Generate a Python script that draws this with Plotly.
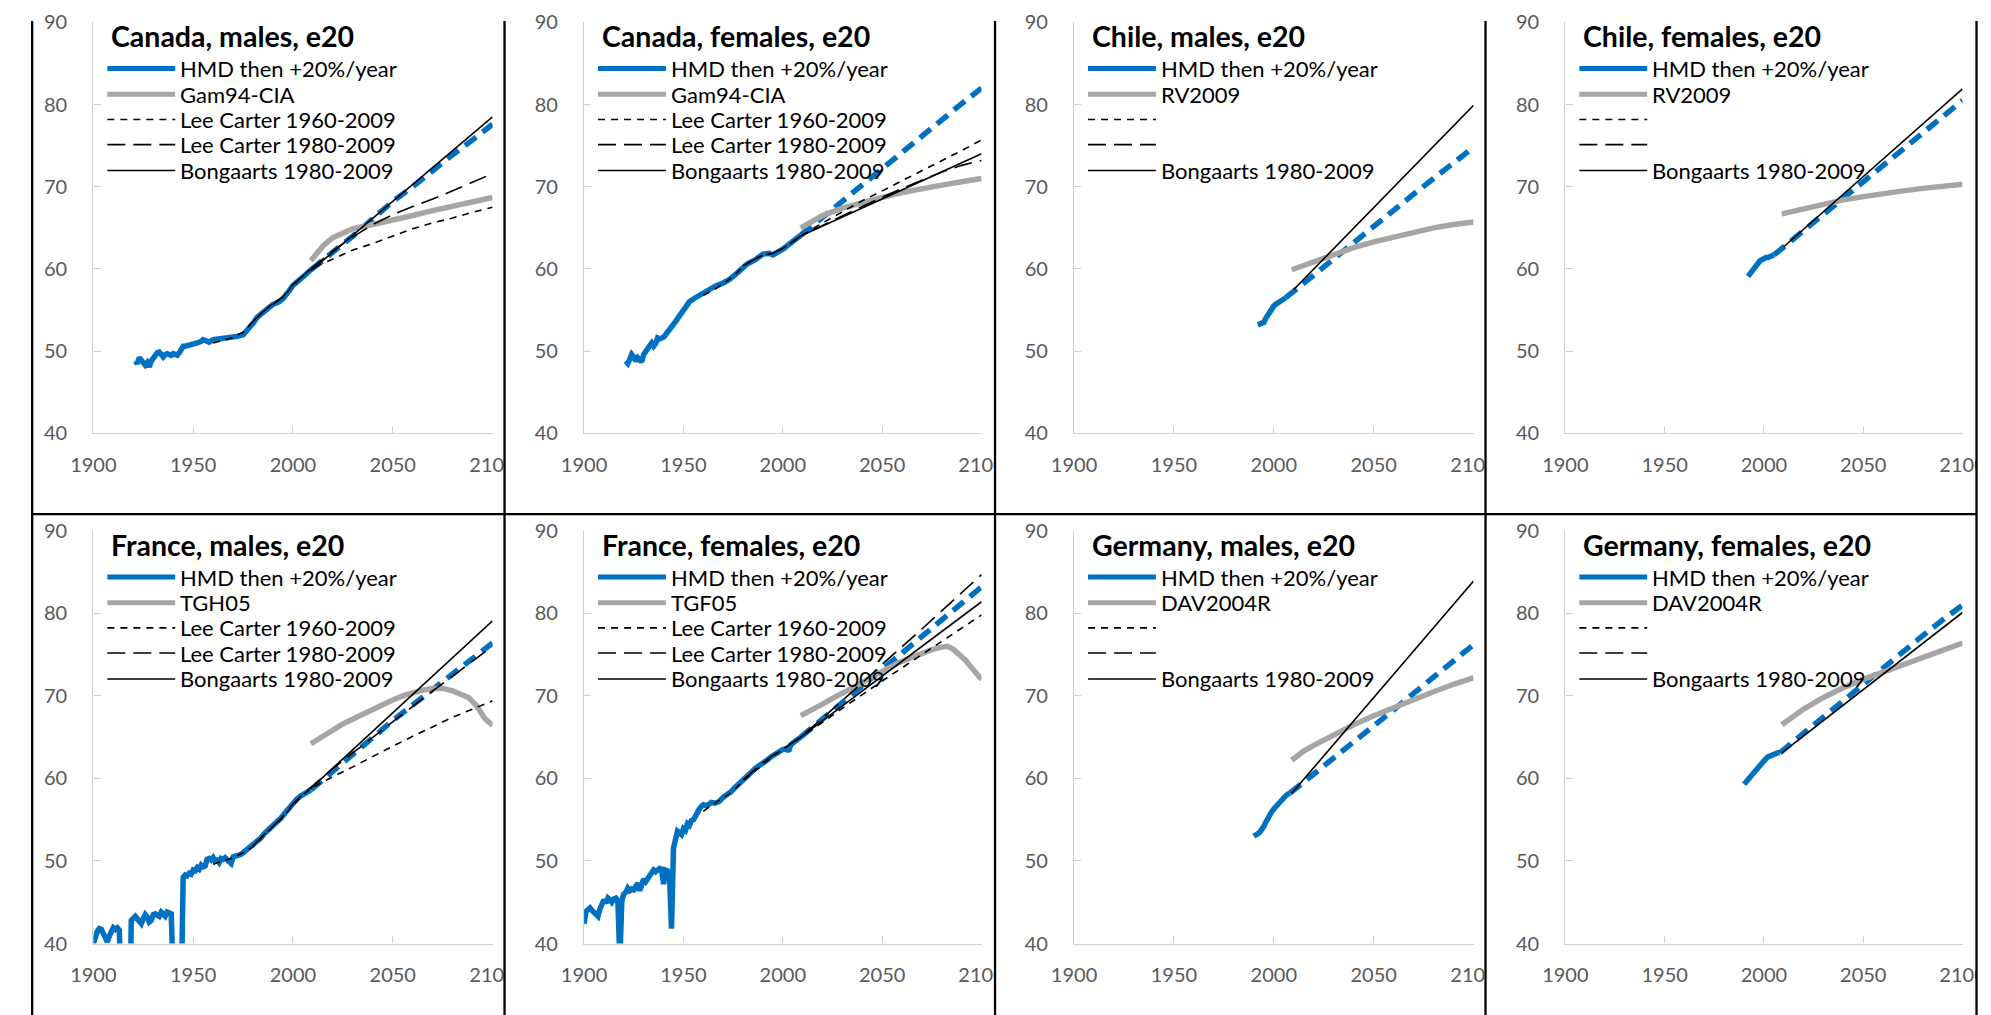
import plotly.graph_objects as go

# ---------------- DATA ----------------
# Canada males
can_m_hist_x = [1921,1922,1923,1924,1925,1926,1927,1928,1929,1930,1931,1932,1933,1934,1935,1936,1937,1938,1939,1940,1941,1942,1943,1944,1945,1946,1948,1950,1952,1954,1955,1956,1958,1960,1963,1966,1969,1972,1975,1977,1980,1982,1985,1988,1990,1993,1995,1998,2000,2003,2005,2007,2009]
can_m_hist_y = [48.8,48.5,49.2,48.9,48.6,48.3,48.6,48.1,48.8,49.2,49.4,49.8,49.9,49.6,49.3,49.6,49.7,49.6,49.5,49.7,49.6,49.5,49.8,50.3,50.6,50.6,50.7,50.9,51.0,51.2,51.4,51.3,51.1,51.4,51.5,51.5,51.6,51.8,52.0,52.5,53.4,54.1,54.7,55.2,55.7,56.0,56.4,57.3,58.0,58.6,59.1,59.5,59.9]
can_m_proj_x = [2009,2020,2030,2040,2050,2060,2070,2080,2090,2100]
can_m_proj_y = [59.9,62.0,64.0,66.1,68.2,70.0,72.0,73.9,75.7,77.6]
can_m_tab_x = [2009,2012,2015,2020,2025,2030,2040,2050,2060,2070,2080,2090,2100]
can_m_tab_y = [61.0,62.0,62.8,63.8,64.4,64.9,65.4,65.9,66.5,67.1,67.6,68.2,68.7]
can_m_lc60_x = [1960,1965,1970,1975,1980,1985,1990,1995,2000,2005,2009,2020,2030,2040,2050,2060,2070,2080,2090,2100]
can_m_lc60_y = [51.0,51.3,51.7,52.3,53.6,54.8,55.8,56.6,58.0,59.2,60.0,61.2,62.3,63.1,64.0,64.9,65.6,66.2,66.9,67.5]
can_m_lc80_x = [1980,1985,1990,1995,2000,2005,2009,2020,2030,2040,2050,2060,2070,2080,2090,2100]
can_m_lc80_y = [53.6,54.8,55.7,56.6,58.1,59.2,60.0,62.2,63.9,65.4,66.6,67.6,68.5,69.5,70.6,71.6]
can_m_bong_x = [2009,2100]
can_m_bong_y = [59.8,78.5]

# Canada females
can_f_hist_x = [1921,1922,1923,1924,1925,1926,1927,1928,1929,1930,1931,1932,1933,1934,1935,1936,1937,1938,1939,1940,1941,1942,1943,1944,1945,1946,1948,1950,1953,1956,1960,1963,1966,1970,1973,1977,1980,1982,1986,1990,1993,1995,2000,2003,2007,2009]
can_f_hist_y = [48.8,48.5,49.0,49.6,49.3,48.8,49.2,49.0,48.7,49.6,50.0,50.3,50.8,51.0,50.6,50.9,51.6,51.5,51.6,51.7,52.0,52.3,52.5,53.0,53.3,53.6,54.3,55.0,56.0,56.5,57.1,57.5,57.9,58.3,58.7,59.5,60.2,60.6,61.1,61.8,61.9,61.7,62.4,63.0,63.6,64.1]
can_f_proj_x = [2009,2020,2030,2040,2050,2060,2070,2080,2090,2100]
can_f_proj_y = [64.1,66.3,68.3,70.3,72.3,74.3,76.3,78.2,80.1,82.0]
can_f_tab_x = [2009,2015,2020,2030,2040,2050,2060,2070,2080,2090,2100]
can_f_tab_y = [65.0,65.9,66.5,67.4,68.1,68.7,69.3,69.8,70.2,70.6,71.0]
can_f_lc60_x = [1960,1965,1970,1975,1980,1985,1990,1995,2000,2005,2009,2020,2030,2040,2050,2060,2070,2080,2090,2100]
can_f_lc60_y = [56.8,57.4,58.2,59.1,60.3,61.1,61.7,61.9,62.5,63.3,64.0,65.6,67.0,68.3,69.5,70.7,71.9,73.1,74.4,75.7]
can_f_lc80_x = [1980,1985,1990,1995,2000,2005,2009,2020,2030,2040,2050,2060,2070,2080,2090,2100]
can_f_lc80_y = [60.4,61.1,61.7,61.9,62.5,63.3,64.0,65.3,66.5,67.6,68.7,69.8,70.8,71.8,72.6,73.2]
can_f_bong_x = [2009,2100]
can_f_bong_y = [64.0,74.0]

# Chile males
chl_m_hist_x = [1992,1993,1994,1995,1996,1997,1998,1999,2000,2001,2002,2003,2004,2005,2006]
chl_m_hist_y = [53.2,53.3,53.3,53.5,54.0,54.4,55.0,55.3,55.5,55.7,55.9,56.1,56.2,56.4,56.5]
chl_m_proj_x = [2006,2020,2030,2040,2050,2060,2070,2080,2090,2100]
chl_m_proj_y = [56.5,59.3,61.3,63.3,65.3,67.2,69.1,71.0,72.9,74.8]
chl_m_tab_x = [2009,2020,2030,2040,2050,2060,2070,2080,2090,2100]
chl_m_tab_y = [59.9,60.9,61.8,62.6,63.3,63.9,64.5,65.0,65.4,65.7]
chl_m_bong_x = [2010,2100]
chl_m_bong_y = [57.5,79.9]

# Chile females
chl_f_hist_x = [1992,1993,1994,1995,1996,1997,1998,1999,2000,2001,2002,2003,2004,2005]
chl_f_hist_y = [59.1,59.4,59.9,60.2,60.4,60.7,61.0,61.1,61.3,61.4,61.4,61.5,61.6,61.7]
chl_f_proj_x = [2005,2010,2020,2030,2040,2050,2060,2070,2080,2090,2100]
chl_f_proj_y = [61.7,62.7,64.7,66.7,68.7,70.7,72.7,74.7,76.7,78.6,80.5]
chl_f_tab_x = [2009,2020,2030,2040,2050,2060,2070,2080,2090,2100]
chl_f_tab_y = [66.7,67.3,67.9,68.4,68.8,69.2,69.5,69.8,70.1,70.3]
chl_f_bong_x = [2010,2100]
chl_f_bong_y = [62.7,81.9]

# France males
fra_m_hist_x = [1900,1901,1902,1903,1904,1905,1906,1907,1908,1909,1910,1911,1912,1913,1914,1915,1916,1917,1918,1919,1920,1921,1922,1923,1924,1925,1926,1927,1928,1929,1930,1931,1932,1933,1934,1935,1936,1937,1938,1939,1940,1941,1942,1943,1944,1945,1946,1947,1948,1949,1950,1951,1952,1953,1954,1955,1956,1957,1958,1959,1960,1961,1962,1963,1964,1965,1966,1967,1968,1969,1970,1972,1974,1976,1978,1980,1982,1984,1986,1988,1990,1992,1994,1996,1998,2000,2002,2004,2006,2009]
fra_m_hist_y = [40.0,41.0,41.5,41.8,41.7,41.2,40.8,40.2,40.9,41.6,41.9,41.7,41.9,41.6,30.0,24.0,27.0,29.0,28.0,42.8,43.1,43.3,43.0,42.6,42.4,43.0,43.5,43.2,42.6,42.8,43.5,43.6,43.5,43.3,43.8,43.6,43.3,43.8,43.7,43.6,36.0,38.5,38.5,38.0,34.0,48.0,48.3,48.2,48.5,48.4,48.9,48.8,49.2,49.0,49.5,49.3,49.4,50.2,50.3,50.1,50.4,50.0,50.1,49.8,50.3,50.2,50.4,50.1,49.9,49.7,50.5,50.6,50.8,51.2,51.6,51.8,52.3,52.8,53.4,53.8,54.2,54.7,55.2,55.8,56.4,57.0,57.5,57.9,58.2,58.6]
fra_m_proj_x = [2009,2020,2030,2040,2050,2060,2070,2080,2090,2100]
fra_m_proj_y = [58.6,60.9,63.0,65.0,67.0,68.9,70.8,72.6,74.5,76.4]
fra_m_tab_x = [2009,2015,2020,2025,2030,2035,2040,2045,2050,2055,2060,2065,2070,2075,2080,2084,2088,2092,2096,2100]
fra_m_tab_y = [64.2,65.1,65.9,66.6,67.2,67.8,68.4,68.9,69.5,70.0,70.4,70.7,70.9,70.9,70.6,70.2,69.8,68.8,67.3,66.4]
fra_m_lc60_x = [1960,1965,1970,1975,1980,1985,1990,1995,2000,2005,2009,2015,2020,2030,2040,2050,2060,2070,2080,2090,2100]
fra_m_lc60_y = [49.6,50.0,50.4,51.0,51.7,53.0,54.1,55.3,56.7,58.0,58.8,59.6,60.2,61.4,62.7,63.9,65.1,66.3,67.4,68.4,69.4]
fra_m_lc80_x = [1980,1985,1990,1995,2000,2005,2009,2020,2030,2040,2050,2060,2070,2080,2090,2100]
fra_m_lc80_y = [51.8,53.1,54.2,55.4,56.9,58.1,58.9,61.2,63.1,65.0,66.8,68.7,70.6,72.4,74.2,76.0]
fra_m_bong_x = [2009,2100]
fra_m_bong_y = [58.8,79.1]

# France females
fra_f_hist_x = [1900,1901,1902,1903,1904,1905,1906,1907,1908,1909,1910,1911,1912,1913,1914,1915,1916,1917,1918,1919,1920,1921,1922,1923,1924,1925,1926,1927,1928,1929,1930,1931,1932,1933,1934,1935,1936,1937,1938,1939,1940,1941,1942,1943,1944,1945,1946,1947,1948,1949,1950,1951,1952,1953,1954,1955,1956,1957,1958,1959,1960,1962,1964,1966,1968,1970,1972,1974,1976,1978,1980,1982,1984,1986,1988,1990,1992,1994,1996,1998,2000,2002,2003,2004,2006,2009]
fra_f_hist_y = [42.4,43.9,44.1,44.3,44.0,43.8,43.6,43.3,44.2,45.0,45.3,44.9,45.5,45.3,45.0,45.4,45.5,45.2,38.0,45.2,46.0,46.2,46.7,46.4,46.6,46.5,46.9,47.3,46.4,47.0,47.8,47.5,47.9,48.0,48.6,48.9,48.7,48.9,49.1,49.0,47.2,48.9,48.8,48.2,41.8,51.6,53.0,53.6,53.4,53.2,53.9,53.7,54.5,54.3,54.9,55.0,55.4,56.0,56.3,56.6,56.8,56.7,57.1,57.0,57.2,57.7,58.0,58.4,58.9,59.3,59.8,60.3,60.7,61.2,61.5,61.8,62.2,62.6,62.9,63.2,63.5,63.6,63.3,64.1,64.5,65.0]
fra_f_proj_x = [2009,2020,2030,2040,2050,2060,2070,2080,2090,2100]
fra_f_proj_y = [65.0,67.2,69.2,71.2,73.2,75.2,77.2,79.2,81.2,83.2]
fra_f_tab_x = [2009,2015,2020,2025,2030,2035,2040,2045,2050,2055,2060,2065,2070,2075,2080,2083,2086,2089,2092,2095,2100]
fra_f_tab_y = [67.6,68.3,69.0,69.7,70.3,71.0,71.6,72.3,73.0,73.6,74.2,74.7,75.2,75.6,75.9,76.0,75.6,75.0,74.3,73.4,72.0]
fra_f_lc60_x = [1960,1965,1970,1975,1980,1985,1990,1995,2000,2005,2009,2020,2030,2040,2050,2060,2070,2080,2090,2100]
fra_f_lc60_y = [56.0,56.9,57.6,58.5,59.7,60.7,61.8,62.7,63.5,64.3,65.0,66.8,68.5,70.2,71.8,73.4,75.0,76.6,78.2,79.8]
fra_f_lc80_x = [1980,1985,1990,1995,2000,2005,2009,2020,2030,2040,2050,2060,2070,2080,2090,2100]
fra_f_lc80_y = [59.8,60.9,61.9,62.8,63.6,64.3,65.0,67.3,69.4,71.6,73.8,75.9,78.1,80.3,82.5,84.7]
fra_f_bong_x = [2009,2100]
fra_f_bong_y = [65.0,81.4]

# Germany males
deu_m_hist_x = [1990,1991,1992,1993,1994,1995,1996,1997,1998,1999,2000,2001,2002,2003,2004,2005,2006,2007,2008]
deu_m_hist_y = [53.0,53.1,53.3,53.5,53.8,54.2,54.7,55.2,55.7,56.0,56.3,56.6,56.9,57.1,57.4,57.7,57.9,58.1,58.2]
deu_m_proj_x = [2008,2020,2030,2040,2050,2060,2070,2080,2090,2100]
deu_m_proj_y = [58.2,60.5,62.5,64.4,66.3,68.3,70.3,72.3,74.2,76.2]
deu_m_tab_x = [2009,2015,2020,2030,2040,2050,2060,2070,2080,2090,2100]
deu_m_tab_y = [62.2,63.3,64.0,65.3,66.5,67.6,68.6,69.6,70.5,71.4,72.2]
deu_m_bong_x = [2009,2100]
deu_m_bong_y = [58.2,83.9]

# Germany females
deu_f_hist_x = [1990,1991,1992,1993,1994,1995,1996,1997,1998,1999,2000,2001,2002,2003,2004,2005,2006,2007,2008]
deu_f_hist_y = [59.3,59.6,59.9,60.2,60.5,60.7,61.0,61.4,61.7,61.9,62.1,62.4,62.6,62.7,62.9,63.0,63.0,63.1,63.1]
deu_f_proj_x = [2008,2020,2030,2040,2050,2060,2070,2080,2090,2100]
deu_f_proj_y = [63.1,65.5,67.5,69.5,71.5,73.5,75.4,77.3,79.2,81.0]
deu_f_tab_x = [2009,2015,2020,2030,2040,2050,2060,2070,2080,2090,2100]
deu_f_tab_y = [66.5,67.6,68.4,69.8,71.0,72.0,72.9,73.8,74.7,75.6,76.4]
deu_f_bong_x = [2009,2100]
deu_f_bong_y = [63.1,80.1]

panel_titles = ["Canada, males, e20", "Canada, females, e20", "Chile, males, e20", "Chile, females, e20",
                "France, males, e20", "France, females, e20", "Germany, males, e20", "Germany, females, e20"]
table_names = ["Gam94-CIA", "Gam94-CIA", "RV2009", "RV2009", "TGH05", "TGF05", "DAV2004R", "DAV2004R"]
hmd_label = "HMD then +20%/year"
lc60_label = "Lee Carter 1960-2009"
lc80_label = "Lee Carter 1980-2009"
bong_label = "Bongaarts 1980-2009"
x_ticks = [1900, 1950, 2000, 2050, 2100]
y_ticks = [40, 50, 60, 70, 80, 90]

# ---------------- LAYOUT CONSTANTS ----------------
# target positions are given in picture pixels; the figure appears in the picture
# shifted by (OXS, OYS) and scaled by (SX, SY), so positions are mapped back.
W, H = 2000, 1025
SX, OXS = 0.979, 27.5
SY, OYS = 0.970, 23.7
COL_X0 = [90, 581.7, 1072.7, 1565]
COL_X1 = [490, 980, 1473, 1963]
ROW_Y90 = [25, 530]
ROW_Y40 = [433.3, 940]
V_BORDERS = [10, 502, 993.5, 1485, 1977]
MID_BORDER = 513.5

BLUE = "#0070C0"
GRAY = "#A6A6A6"
AXIS = "#D0D0D0"
TICKTXT = "#595959"
FONT = "Lato"
TICK_SIZE = 20
LEG_SIZE = 22
TITLE_SIZE = 28.5


def px(x, lo=None):
    d = (x - OXS) / SX
    if lo is not None:
        d = max(d, lo)
    return d / W


def py(y, lo=None):
    d = (y - OYS) / SY
    if lo is not None:
        d = max(d, lo)
    return 1 - d / H


panels = [
    dict(h=(can_m_hist_x, can_m_hist_y), p=(can_m_proj_x, can_m_proj_y), t=(can_m_tab_x, can_m_tab_y),
         lc60=(can_m_lc60_x, can_m_lc60_y), lc80=(can_m_lc80_x, can_m_lc80_y), b=(can_m_bong_x, can_m_bong_y)),
    dict(h=(can_f_hist_x, can_f_hist_y), p=(can_f_proj_x, can_f_proj_y), t=(can_f_tab_x, can_f_tab_y),
         lc60=(can_f_lc60_x, can_f_lc60_y), lc80=(can_f_lc80_x, can_f_lc80_y), b=(can_f_bong_x, can_f_bong_y)),
    dict(h=(chl_m_hist_x, chl_m_hist_y), p=(chl_m_proj_x, chl_m_proj_y), t=(chl_m_tab_x, chl_m_tab_y),
         lc60=None, lc80=None, b=(chl_m_bong_x, chl_m_bong_y)),
    dict(h=(chl_f_hist_x, chl_f_hist_y), p=(chl_f_proj_x, chl_f_proj_y), t=(chl_f_tab_x, chl_f_tab_y),
         lc60=None, lc80=None, b=(chl_f_bong_x, chl_f_bong_y)),
    dict(h=(fra_m_hist_x, fra_m_hist_y), p=(fra_m_proj_x, fra_m_proj_y), t=(fra_m_tab_x, fra_m_tab_y),
         lc60=(fra_m_lc60_x, fra_m_lc60_y), lc80=(fra_m_lc80_x, fra_m_lc80_y), b=(fra_m_bong_x, fra_m_bong_y)),
    dict(h=(fra_f_hist_x, fra_f_hist_y), p=(fra_f_proj_x, fra_f_proj_y), t=(fra_f_tab_x, fra_f_tab_y),
         lc60=(fra_f_lc60_x, fra_f_lc60_y), lc80=(fra_f_lc80_x, fra_f_lc80_y), b=(fra_f_bong_x, fra_f_bong_y)),
    dict(h=(deu_m_hist_x, deu_m_hist_y), p=(deu_m_proj_x, deu_m_proj_y), t=(deu_m_tab_x, deu_m_tab_y),
         lc60=None, lc80=None, b=(deu_m_bong_x, deu_m_bong_y)),
    dict(h=(deu_f_hist_x, deu_f_hist_y), p=(deu_f_proj_x, deu_f_proj_y), t=(deu_f_tab_x, deu_f_tab_y),
         lc60=None, lc80=None, b=(deu_f_bong_x, deu_f_bong_y)),
]

fig = go.Figure()
shapes = []
annotations = []
layout_axes = {}

DASH_BLUE = "14px,8px"
DASH_SHORT = "7px,6px"
DASH_LONG = "18px,8px"

for i, pdata in enumerate(panels):
    r, c = divmod(i, 4)
    n = i + 1
    xa = "x" if n == 1 else f"x{n}"
    ya = "y" if n == 1 else f"y{n}"
    xkey = "xaxis" if n == 1 else f"xaxis{n}"
    ykey = "yaxis" if n == 1 else f"yaxis{n}"
    x0, x1 = COL_X0[c], COL_X1[c]
    y90, y40 = ROW_Y90[r], ROW_Y40[r]

    layout_axes[xkey] = dict(
        domain=[px(x0), px(x1)], anchor=ya, range=[1900, 2100], tickvals=x_ticks,
        ticks="inside", ticklen=7, tickcolor=AXIS, tickwidth=1.3, showline=True, linecolor=AXIS, linewidth=1.3,
        showgrid=False, zeroline=False, tickfont=dict(family=FONT, size=TICK_SIZE, color=TICKTXT),
        ticklabelstandoff=13, fixedrange=True)
    layout_axes[ykey] = dict(
        domain=[py(y40), py(y90)], anchor=xa, range=[40, 90], tickvals=y_ticks,
        ticks="inside", ticklen=7, tickcolor=AXIS, tickwidth=1.3, showline=True, linecolor=AXIS, linewidth=1.3,
        showgrid=False, zeroline=False, tickfont=dict(family=FONT, size=TICK_SIZE, color=TICKTXT),
        ticklabelstandoff=21, fixedrange=True)

    def add(xy, color, width, dash, name):
        if xy is None:
            return
        fig.add_trace(go.Scatter(x=xy[0], y=xy[1], mode="lines", name=name, showlegend=False,
                                 line=dict(color=color, width=width, dash=dash),
                                 xaxis=xa, yaxis=ya, hoverinfo="skip"))

    add(pdata["h"], BLUE, 5.5, "solid", hmd_label)
    add(pdata["p"], BLUE, 5.5, DASH_BLUE, hmd_label)
    add(pdata["t"], GRAY, 5.5, "solid", table_names[i])
    add(pdata["lc60"], "black", 1.6, DASH_SHORT, lc60_label)
    add(pdata["lc80"], "black", 1.6, DASH_LONG, lc80_label)
    add(pdata["b"], "black", 1.6, "solid", bong_label)

    # title
    annotations.append(dict(text=f"<b>{panel_titles[i]}</b>", x=px(x0 + 16), y=py(y90 + 14),
                            xref="paper", yref="paper", xanchor="left", yanchor="middle", showarrow=False,
                            font=dict(family=FONT, size=TITLE_SIZE, color="black")))
    # legend
    has_lc = pdata["lc60"] is not None
    items = [
        (hmd_label, BLUE, 5, "solid"),
        (table_names[i], GRAY, 5, "solid"),
        (lc60_label if has_lc else "", "black", 1.6, DASH_SHORT),
        (lc80_label if has_lc else "", "black", 1.6, DASH_LONG),
        (bong_label, "black", 1.6, "solid"),
    ]
    offs = [46, 71.5, 96.5, 121.5, 147.2]
    for (lab, col, w, dash), off in zip(items, offs):
        yy = y90 + off
        shapes.append(dict(type="line", xref="paper", yref="paper", x0=px(x0 + 14), x1=px(x0 + 82),
                           y0=py(yy), y1=py(yy), line=dict(color=col, width=w, dash=dash), layer="above"))
        if lab:
            annotations.append(dict(text=lab, x=px(x0 + 85), y=py(yy), xref="paper", yref="paper",
                                    xanchor="left", yanchor="middle", showarrow=False,
                                    font=dict(family=FONT, size=LEG_SIZE, color="black")))

# white covers to clip the "2100" labels at panel borders
for xb in V_BORDERS[1:]:
    for yl in [448, 953]:
        shapes.append(dict(type="rect", xref="paper", yref="paper", x0=px(xb), x1=px(xb + 26),
                           y0=py(yl + 38), y1=py(yl), fillcolor="white", line=dict(width=0), layer="above"))

# panel borders
for xb in V_BORDERS:
    shapes.append(dict(type="line", xref="paper", yref="paper", x0=px(xb, 1.2), x1=px(xb, 1.2),
                       y0=1, y1=0, line=dict(color="black", width=2.3), layer="above"))
shapes.append(dict(type="line", xref="paper", yref="paper", x0=px(V_BORDERS[0], 1.2), x1=px(V_BORDERS[-1]),
                   y0=py(MID_BORDER), y1=py(MID_BORDER), line=dict(color="black", width=2.3), layer="above"))

fig.update_layout(
    width=W, height=H, margin=dict(l=0, r=0, t=0, b=0, pad=0),
    paper_bgcolor="white", plot_bgcolor="white", showlegend=False,
    shapes=shapes, annotations=annotations, **layout_axes)

fig.write_html("out.html")
